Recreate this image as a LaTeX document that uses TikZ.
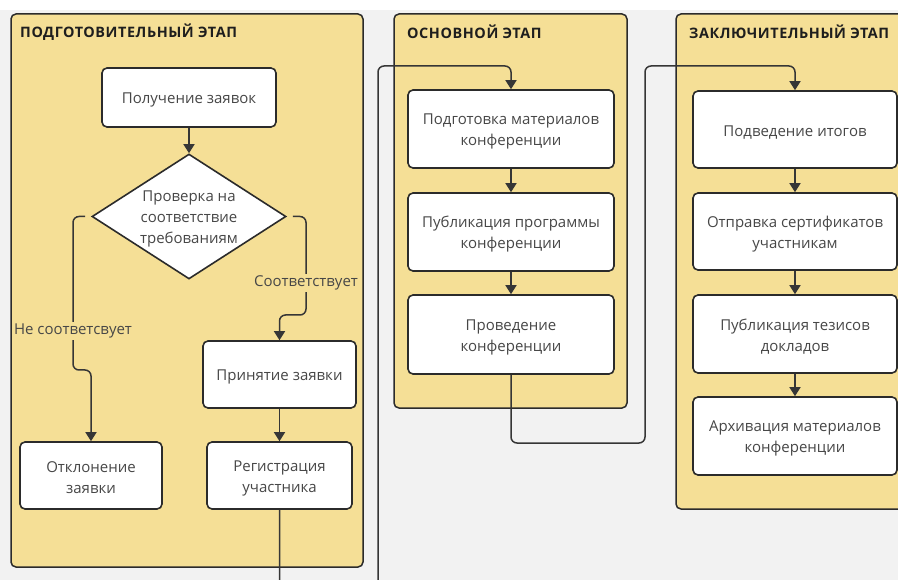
\documentclass[tikz,border=0pt]{standalone}
\usepackage{fontspec}
\setmainfont{Open Sans}
\newfontfamily\lanefont[LetterSpace=4]{Open Sans}
\usetikzlibrary{arrows.meta,shapes.geometric}
\definecolor{bgGrey}{HTML}{F2F2F2}
\definecolor{laneYellow}{HTML}{F5DF96}
\definecolor{edgeDark}{HTML}{2B2B2B}
\definecolor{lineDark}{HTML}{363636}
\definecolor{textGrey}{HTML}{474747}
\definecolor{titleDark}{HTML}{1E1E1E}
% a tall invisible strut on the first line lowers the text block a little
\newcommand{\ls}{\rule{0pt}{16pt}}
\tikzset{
  lane/.style={draw=edgeDark, line width=1.5pt, fill=laneYellow, rounded corners=5pt},
  lanetitle/.style={anchor=west, inner sep=0pt, text=titleDark,
    font=\lanefont\fontsize{14.4}{16}\selectfont\bfseries},
  stepbox/.style={draw=edgeDark, line width=1.6pt, fill=white, rounded corners=5pt,
    align=center, text=textGrey, inner sep=0pt,
    font=\fontsize{15}{21}\selectfont},
  decide/.style={diamond, draw=edgeDark, line width=1.6pt, fill=white,
    shape aspect=1.55, inner sep=0pt, align=center, text=textGrey,
    minimum width=194pt, minimum height=125pt,
    font=\fontsize{15}{21}\selectfont},
  flow/.style={draw=lineDark, line width=1.5pt, rounded corners=6pt,
    -{Triangle[width=11pt,length=9pt]}},
  branchlabel/.style={fill=laneYellow, inner sep=2pt, text=textGrey,
    font=\fontsize{15}{21}\selectfont},
}
\begin{document}
\begin{tikzpicture}[x=1pt, y=-1pt]
  % canvas
  \useasboundingbox (0,0) rectangle (898,580);
  \fill[white] (0,0) rectangle (898,580);
  \fill[bgGrey] (0,10) rectangle (898,580);

  % stage lanes
  \draw[lane] (11,14) rectangle (363,567);
  \draw[lane] (394,14) rectangle (627,408);
  \draw[lane] (676,14) rectangle (930,509);
  \node[lanetitle] (t1) at (20,32) {ПОДГОТОВИТЕЛЬНЫЙ ЭТАП};
  \node[lanetitle] (t2) at (407,32) {ОСНОВНОЙ ЭТАП};
  \node[lanetitle] (t3) at (689,32) {ЗАКЛЮЧИТЕЛЬНЫЙ ЭТАП};

  % preparatory stage
  \node[stepbox, minimum width=174pt, minimum height=59pt] (pol) at (189,97.5) {\ls Получение заявок};
  \node[decide] (chk) at (189,216.5) {\ls Проверка на\\соответствие\\требованиям};
  \node[stepbox, minimum width=153pt, minimum height=67pt] (acc) at (279.5,374.5) {\ls Принятие заявки};
  \node[stepbox, minimum width=142pt, minimum height=67pt] (rej) at (91,475.5) {\ls Отклонение\\заявки};
  \node[stepbox, minimum width=145pt, minimum height=67pt] (reg) at (279.5,475.5) {\ls Регистрация\\участника};

  % main stage
  \node[stepbox, minimum width=206pt, minimum height=78pt] (mat) at (511,129) {\ls Подготовка материалов\\конференции};
  \node[stepbox, minimum width=206pt, minimum height=78pt] (prog) at (511,232) {\ls Публикация программы\\конференции};
  \node[stepbox, minimum width=206pt, minimum height=79pt] (conf) at (511,334.5) {\ls Проведение\\конференции};

  % final stage
  \node[stepbox, minimum width=204pt, minimum height=77pt] (sum) at (795,129.5) {\ls Подведение итогов};
  \node[stepbox, minimum width=204pt, minimum height=77pt] (cert) at (795,231.5) {\ls Отправка сертификатов\\участникам};
  \node[stepbox, minimum width=204pt, minimum height=78pt] (thes) at (795,334) {\ls Публикация тезисов\\докладов};
  \node[stepbox, minimum width=204pt, minimum height=78pt] (arch) at (795,436) {\ls Архивация материалов\\конференции};

  % connectors of the preparatory stage
  \draw[flow] (pol) -- (chk);
  \draw[flow] ([xshift=-6pt]chk.west) -- (73,216.5) -- (73,370) -- (91,370) -- (rej.north);
  \draw[flow] ([xshift=6pt]chk.east) -- (306,216.5) -- (306,315) -- (279.5,315) -- (acc.north);
  \draw[flow] (acc) -- (reg);
  \node[branchlabel] (lno) at (73,331) {Не соответсвует};
  \node[branchlabel] (lyes) at (306,283) {Соответствует};

  % hand-over to the main stage
  \coordinate (d1) at (279.5,610);
  \coordinate (d2) at (378,610);
  \draw[flow] (reg.south) -- (d1) -- (d2) -- (378,66) -- (511,66) -- (mat.north);
  \draw[flow] (mat) -- (prog);
  \draw[flow] (prog) -- (conf);

  % hand-over to the final stage
  \draw[flow] (conf.south) -- (511,443) -- (645,443) -- (645,66) -- (795,66) -- (sum.north);
  \draw[flow] (sum) -- (cert);
  \draw[flow] (cert) -- (thes);
  \draw[flow] (thes) -- (arch);
\end{tikzpicture}
\end{document}
